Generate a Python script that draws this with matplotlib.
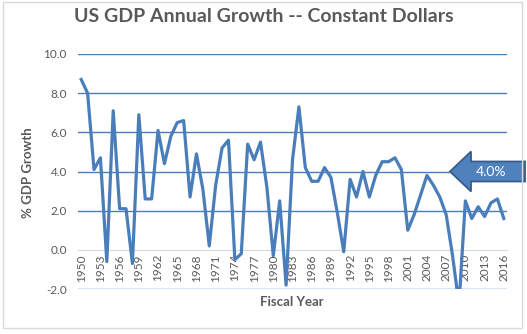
import matplotlib.pyplot as plt
from matplotlib.patches import Polygon, Rectangle
from matplotlib.transforms import ScaledTranslation

# Crescimento anual do PIB dos EUA (dólares constantes), em %
anos = list(range(1950, 2017))
crescimento = [8.7, 8.0, 4.1, 4.7, -0.6, 7.1, 2.1, 2.1, -0.7, 6.9,
               2.6, 2.6, 6.1, 4.4, 5.8, 6.5, 6.6, 2.7, 4.9, 3.1,
               0.2, 3.3, 5.2, 5.6, -0.5, -0.2, 5.4, 4.6, 5.5, 3.2,
               -0.3, 2.5, -1.8, 4.6, 7.3, 4.2, 3.5, 3.5, 4.2, 3.7,
               1.9, -0.1, 3.6, 2.7, 4.0, 2.7, 3.8, 4.5, 4.5, 4.7,
               4.1, 1.0, 1.8, 2.8, 3.8, 3.3, 2.7, 1.8, -0.3, -2.8,
               2.5, 1.6, 2.2, 1.7, 2.4, 2.6, 1.6]
anos_ticks = list(range(1950, 2017, 3))
meta = 4.0

cinza = '#595959'
azul = '#4a7ebb'
plt.rcParams['font.family'] = ['Lato', 'DejaVu Sans']

fig = plt.figure(figsize=(5.27, 3.34), dpi=100)
ax = fig.add_axes([78 / 527, 45 / 334, 429 / 527, 235 / 334])

ax.plot(anos, crescimento, color=azul, lw=2.3, zorder=3)
ax.set_xlim(1949.5, 2016.5)
ax.set_ylim(-2, 10)

# grade horizontal azul, o zero fica com a linha do eixo (cinza)
yticks = list(range(-2, 11, 2))
for v in yticks:
    if v != 0:
        ax.axhline(v, color=azul, lw=1, zorder=1)
ax.set_yticks(yticks)
ax.set_yticklabels([f'{v:.1f}' for v in yticks])

for s in ['top', 'right', 'left']:
    ax.spines[s].set_visible(False)
ax.spines['bottom'].set_position(('data', 0))
ax.spines['bottom'].set_color('#d9d9d9')
ax.spines['bottom'].set_zorder(2)

ax.set_xticks(anos_ticks)
ax.set_xticklabels([str(a) for a in anos_ticks], rotation=90)
ax.tick_params(axis='x', length=0, pad=3, labelsize=8.5, labelcolor=cinza)
ax.tick_params(axis='y', length=0, pad=8, labelsize=8.5, labelcolor=cinza)

fig.text(0.5, 1 - 17 / 334, 'US GDP Annual Growth -- Constant Dollars',
         ha='center', va='center', fontsize=14, fontweight='bold', color=cinza)
fig.text(28 / 527, 1 - 173 / 334, '% GDP Growth', rotation=90,
         ha='center', va='center', fontsize=9.5, fontweight='bold', color=cinza)
fig.text(292 / 527, 1 - 302 / 334, 'Fiscal Year',
         ha='center', va='center', fontsize=9.5, fontweight='bold', color=cinza)

# seta apontando para a meta de 4%
trans = fig.dpi_scale_trans + ScaledTranslation(2007.6, meta, ax.transData)
seta = Polygon([(0, 0), (0.21, 0.20), (0.21, 0.10), (0.75, 0.10),
                (0.75, -0.10), (0.21, -0.10), (0.21, -0.20)],
               closed=True, transform=trans, facecolor='#4f81bd',
               edgecolor='#385d8a', lw=1.3, clip_on=False, zorder=5)
ax.add_patch(seta)
ax.text(0.41, 0, f'{meta:.1f}%', transform=trans, ha='center', va='center',
        color='white', fontsize=10, zorder=6)

# borda do gráfico
fig.patches.append(Rectangle((3 / 527, 6 / 334), 519 / 527, 326 / 334,
                             transform=fig.transFigure, fill=False,
                             edgecolor='#d9d9d9', lw=1))

plt.savefig('out.png')
